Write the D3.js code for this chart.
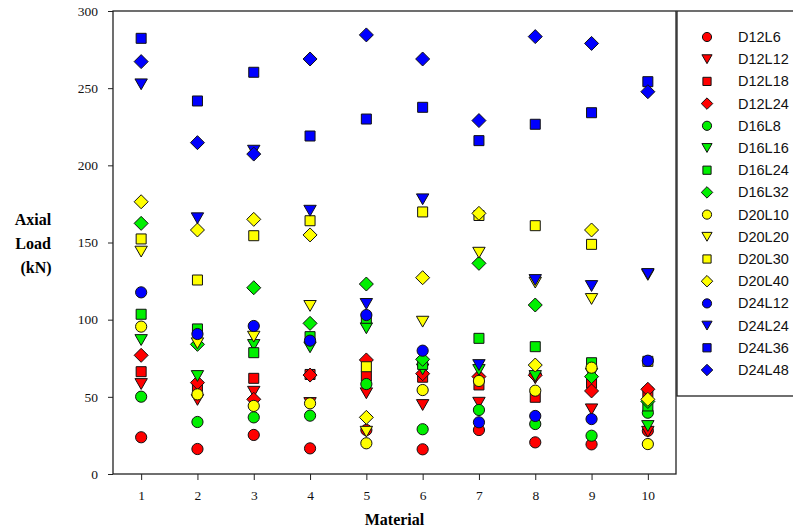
<!DOCTYPE html>
<html>
<head>
<meta charset="utf-8">
<script src="https://cdn.jsdelivr.net/npm/d3@7"></script>
<style>
  html, body { margin: 0; padding: 0; background: #fff; }
  svg { display: block; }
</style>
</head>
<body>
<svg id="chart" width="793" height="532"></svg>
<script>
// Material numbers on the x axis
const materials = [1, 2, 3, 4, 5, 6, 7, 8, 9, 10];
const yTicks = [0, 50, 100, 150, 200, 250, 300];

// Axial load (kN) per specimen, one value per material
const D12L6  = [23.8, 16.2, 25.3, 16.6, 28.5, 16.0, 28.5, 20.5, 19.2, 28.0];
const D12L12 = [58.3, 48.0, 53.3, 46.0, 52.3, 44.7, 46.2, 62.0, 41.9, 27.4];
const D12L18 = [66.3, 56.6, 62.0, 64.5, 63.5, 62.7, 57.7, 49.7, 58.8, 53.0];
const D12L24 = [76.9, 59.2, 48.4, 64.1, 73.9, 65.0, 63.1, 64.0, 53.8, 54.9];
const D16L8  = [50.1, 33.7, 36.7, 37.8, 58.3, 29.0, 41.5, 32.4, 24.8, 39.7];
const D16L16 = [86.8, 63.5, 83.6, 82.1, 94.4, 67.8, 67.4, 63.5, 65.0, 31.1];
const D16L24 = [103.5, 94.0, 78.6, 89.0, 100.9, 71.0, 87.9, 82.5, 72.1, 44.1];
const D16L32 = [162.4, 84.0, 120.7, 97.6, 123.1, 74.3, 136.5, 109.5, 63.1, 47.0];
const D20L10 = [95.5, 51.6, 44.1, 45.8, 19.9, 54.4, 60.3, 54.0, 68.9, 19.4];
const D20L20 = [144.1, 84.7, 89.0, 108.9, 27.4, 98.7, 143.4, 124.0, 113.4, 129.0];
const D20L30 = [152.3, 125.7, 154.4, 164.1, 69.5, 169.8, 167.5, 160.9, 148.8, 73.0];
const D20L40 = [176.4, 158.1, 165.0, 154.9, 36.7, 127.2, 168.9, 70.6, 158.1, 48.4];
const D24L12 = [117.7, 90.7, 95.9, 86.4, 103.0, 79.9, 33.5, 37.6, 35.6, 73.4];
const D24L24 = [252.5, 165.7, 209.5, 170.6, 110.2, 178.0, 70.6, 125.7, 121.8, 129.6];
const D24L36 = [282.3, 241.7, 260.3, 219.0, 230.0, 237.6, 216.0, 226.6, 234.1, 254.2];
const D24L48 = [267.2, 214.7, 207.3, 268.9, 284.5, 268.9, 229.0, 283.4, 279.0, 247.7];

const seriesNames = ["D12L6", "D12L12", "D12L18", "D12L24",
                     "D16L8", "D16L16", "D16L24", "D16L32",
                     "D20L10", "D20L20", "D20L30", "D20L40",
                     "D24L12", "D24L24", "D24L36", "D24L48"];
const seriesValues = [D12L6, D12L12, D12L18, D12L24,
                      D16L8, D16L16, D16L24, D16L32,
                      D20L10, D20L20, D20L30, D20L40,
                      D24L12, D24L24, D24L36, D24L48];

// Styling: colour by bar diameter, marker shape by length step
const diameterColors = ["#ff0000", "#00f000", "#ffff00", "#0000ff"];
const shapeOrder = ["circle", "triangleDown", "square", "diamond"];

function markerPath(shape, s) {
  // s = scale factor (1 for plot markers)
  switch (shape) {
    case "circle": {
      const r = 5.6 * s;
      return `M${-r},0A${r},${r} 0 1,0 ${r},0A${r},${r} 0 1,0 ${-r},0Z`;
    }
    case "triangleDown": {
      const w = 6.2 * s, h = 5.4 * s;
      return `M${-w},${-h}L${w},${-h}L0,${h}Z`;
    }
    case "square": {
      const a = 5 * s;
      return `M${-a},${-a}L${a},${-a}L${a},${a}L${-a},${a}Z`;
    }
    case "diamond": {
      const d = 7 * s;
      return `M0,${-d}L${d},0L0,${d}L${-d},0Z`;
    }
  }
}

const svg = d3.select("#chart");
const plot = { left: 113, right: 676, top: 11, bottom: 474 };

const x = d3.scaleLinear().domain([0.5, 10.5]).range([plot.left, plot.right]);
const y = d3.scaleLinear().domain([0, 300]).range([plot.bottom, plot.top]);

const serif = "'Liberation Serif', 'Times New Roman', serif";
const sans = "'Liberation Sans', Arial, sans-serif";

// Axes
const xAxis = svg.append("g")
  .attr("transform", `translate(0,${plot.bottom})`)
  .call(d3.axisBottom(x).tickValues(materials).tickSize(6).tickSizeOuter(0).tickPadding(10));
const yAxis = svg.append("g")
  .attr("transform", `translate(${plot.left},0)`)
  .call(d3.axisLeft(y).tickValues(yTicks).tickSize(5).tickSizeOuter(0).tickPadding(10));

[xAxis, yAxis].forEach(g => {
  g.select(".domain").remove();
  g.selectAll(".tick line").attr("stroke", "#222").attr("stroke-width", 1);
  g.selectAll(".tick text")
    .attr("fill", "#111")
    .style("font-family", serif)
    .style("font-size", "13.5px");
});

// Plot frame
svg.append("rect")
  .attr("x", plot.left).attr("y", plot.top)
  .attr("width", plot.right - plot.left).attr("height", plot.bottom - plot.top)
  .attr("fill", "none").attr("stroke", "#222").attr("stroke-width", 1.3);

// Data markers
seriesNames.forEach((name, i) => {
  const color = diameterColors[Math.floor(i / 4)];
  const shape = shapeOrder[i % 4];
  svg.append("g").attr("class", "series")
    .selectAll("path")
    .data(seriesValues[i].map((v, j) => ({ m: materials[j], v })))
    .join("path")
    .attr("transform", d => `translate(${x(d.m)},${y(d.v)})`)
    .attr("d", markerPath(shape, 1))
    .attr("fill", color)
    .attr("stroke", "#111")
    .attr("stroke-width", 1);
});

// Axis titles
svg.append("text")
  .attr("x", x(5.5)).attr("y", 525)
  .attr("text-anchor", "middle")
  .style("font-family", serif).style("font-weight", "bold").style("font-size", "16px")
  .text("Material");

const yTitle = svg.append("text")
  .attr("text-anchor", "middle")
  .style("font-family", serif).style("font-weight", "bold").style("font-size", "16px");
["Axial", "Load", "(kN)"].forEach((t, k) => {
  yTitle.append("tspan").attr("x", k === 2 ? 36 : 33).attr("y", 225 + k * 24).text(t);
});

// Legend
const legend = { left: 677, top: 11, bottom: 396 };
svg.append("rect")
  .attr("x", legend.left).attr("y", legend.top)
  .attr("width", 140).attr("height", legend.bottom - legend.top)
  .attr("fill", "#fff").attr("stroke", "#222").attr("stroke-width", 1.3);

const legendY = d3.scaleLinear().domain([0, seriesNames.length - 1]).range([37, 370]);
seriesNames.forEach((name, i) => {
  const g = svg.append("g").attr("transform", `translate(0,${legendY(i)})`);
  g.append("path")
    .attr("transform", "translate(707,0)")
    .attr("d", markerPath(shapeOrder[i % 4], 0.82))
    .attr("fill", diameterColors[Math.floor(i / 4)])
    .attr("stroke", "#111").attr("stroke-width", 1);
  g.append("text")
    .attr("x", 738).attr("y", 5)
    .style("font-family", sans).style("font-size", "14.5px")
    .attr("fill", "#111")
    .text(name);
});
</script>
</body>
</html>
